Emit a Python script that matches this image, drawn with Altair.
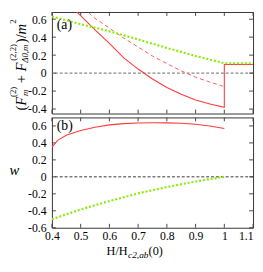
import altair as alt
import pandas as pd

# ---- data ----
# panel (a)
green_a_x = [0.4, 0.5, 0.6, 0.7, 0.8, 0.9, 1.0, 1.1]
green_a_y = [0.63, 0.545, 0.465, 0.375, 0.28, 0.19, 0.11, 0.11]
red_a_x = [0.47, 0.5, 0.55, 0.6, 0.65, 0.7, 0.75, 0.8, 0.85, 0.9, 0.95, 1.0, 1.0, 1.1]
red_a_y = [0.73, 0.64, 0.48, 0.33, 0.17, 0.045, -0.065, -0.16, -0.235, -0.30, -0.345, -0.38, 0.095, 0.095]
reddash_a_x = [0.51, 0.55, 0.6, 0.65, 0.7, 0.75, 0.8, 0.85, 0.9, 0.95, 0.995]
reddash_a_y = [0.72, 0.61, 0.50, 0.39, 0.29, 0.19, 0.105, 0.025, -0.045, -0.10, -0.145]
# panel (b)
red_b_x = [0.4, 0.42, 0.45, 0.5, 0.55, 0.6, 0.65, 0.7, 0.75, 0.8, 0.85, 0.9, 0.95, 1.0]
red_b_y = [0.35, 0.43, 0.49, 0.545, 0.585, 0.612, 0.627, 0.635, 0.637, 0.636, 0.632, 0.62, 0.60, 0.57]
green_b_x = [0.4, 0.5, 0.6, 0.7, 0.8, 0.9, 1.0]
green_b_y = [-0.50, -0.385, -0.285, -0.195, -0.12, -0.055, 0.0]
# ticks
x_ticks = [0.4, 0.5, 0.6, 0.7, 0.8, 0.9, 1.0, 1.1]
y_ticks_a = [-0.4, -0.2, 0, 0.2, 0.4, 0.6]
y_ticks_b = [-0.6, -0.4, -0.2, 0, 0.2, 0.4, 0.6]
zero = [0]

FONT = "Liberation Serif"
RED = "#ff3b3b"
RED2 = "#ff5a5a"
GREEN = "#88ee00"
W, HA, HB = 206, 104, 113


def line_df(xs, ys):
    return pd.DataFrame({"x": xs, "y": ys, "i": list(range(len(xs)))})


dummy = pd.DataFrame({"d": [0]})


def txt(s, x, y, size, italic=False, angle=0, align="left", baseline="alphabetic"):
    return alt.Chart(dummy).mark_text(
        text=s, font=FONT, fontSize=size, fontStyle="italic" if italic else "normal",
        angle=angle, align=align, baseline=baseline, color="black"
    ).encode(x=alt.value(x), y=alt.value(y))


ylab = "datum.value == 0 ? '0' : (datum.value < 0 ? '-' : '') + format(abs(datum.value), '.1f')"
xlab = "datum.value == 1 ? '1' : format(datum.value, '.1f')"

xs = alt.Scale(domain=[0.4, 1.1], nice=False, zero=False)
ya = alt.Scale(domain=[-0.45, 0.68], nice=False, zero=False)
yb = alt.Scale(domain=[-0.6, 0.7], nice=False, zero=False)

XA = alt.X("x:Q", scale=xs, axis=None)
YA = alt.Y("y:Q", scale=ya, axis=alt.Axis(values=y_ticks_a, title=None, labelExpr=ylab,
                                          labelPadding=6, ticks=False, domain=False, grid=False,
                                          labelFont=FONT, labelFontSize=12, labelColor="black"))
XB = alt.X("x:Q", scale=xs, axis=alt.Axis(values=x_ticks, title=None, labelExpr=xlab, labelFlush=False,
                                          labelAlign={"condition": {"test": "datum.value > 1.05", "value": "right"}, "value": "center"},
                                          labelPadding=3, ticks=False, domain=False, grid=False,
                                          labelFont=FONT, labelFontSize=12, labelColor="black"))
YB = alt.Y("y:Q", scale=yb, axis=alt.Axis(values=y_ticks_b, title=None, labelExpr=ylab,
                                          labelPadding=6, ticks=False, domain=False, grid=False,
                                          labelFont=FONT, labelFontSize=12, labelColor="black"))


def tick_layers(X, Y, yt, H):
    xt = pd.DataFrame({"x": x_ticks})
    ytd = pd.DataFrame({"y": yt})
    c = "#444"
    return [
        alt.Chart(xt).mark_rule(color=c, strokeWidth=1).encode(x=X, y=alt.value(0), y2=alt.value(4)),
        alt.Chart(xt).mark_rule(color=c, strokeWidth=1).encode(x=X, y=alt.value(H - 4), y2=alt.value(H)),
        alt.Chart(ytd).mark_rule(color=c, strokeWidth=1).encode(y=Y, x=alt.value(0), x2=alt.value(4)),
        alt.Chart(ytd).mark_rule(color=c, strokeWidth=1).encode(y=Y, x=alt.value(W - 4), x2=alt.value(W)),
    ]


# ---- panel (a) ----
zero_a = alt.Chart(pd.DataFrame({"y": zero})).mark_rule(color="#888", strokeWidth=1.4, strokeDash=[3, 2]).encode(y=YA)
g_a = alt.Chart(line_df(green_a_x, green_a_y)).mark_line(color=GREEN, strokeWidth=2.2, strokeDash=[2, 2], clip=True).encode(x=XA, y=YA, order="i:Q")
r_a = alt.Chart(line_df(red_a_x, red_a_y)).mark_line(color=RED, strokeWidth=1.1, clip=True).encode(x=XA, y=YA, order="i:Q")
rd_a = alt.Chart(line_df(reddash_a_x, reddash_a_y)).mark_line(color=RED2, strokeWidth=1, strokeDash=[4, 3], clip=True).encode(x=XA, y=YA, order="i:Q")

S, SS = 15, 9
MX, SUBX, SUPX = -27, -25, -37
title_a = [
    txt("(", MX, 101, S, angle=270),
    txt("F", MX, 96, S, italic=True, angle=270),
    txt("m", SUBX, 86, SS, italic=True, angle=270),
    txt("(2)", SUPX, 87, SS, angle=270),
    txt("+", MX, 73, S, angle=270),
    txt("F", MX, 61, S, italic=True, angle=270),
    txt("\u03940,m", SUBX, 52, SS, italic=True, angle=270),
    txt("(2,2)", SUPX, 50, SS, angle=270),
    txt(")", MX, 32, S, angle=270),
    txt("/", MX, 27, S, angle=270),
    txt("m", MX, 23, S, italic=True, angle=270),
    txt("2", SUPX, 12, SS, angle=270),
    txt("(a)", 5, 17.5, 14),
]

top = alt.layer(zero_a, *tick_layers(XA, YA, y_ticks_a, HA), rd_a, r_a, g_a, *title_a).properties(width=W, height=HA)

# ---- panel (b) ----
zero_b = alt.Chart(pd.DataFrame({"y": zero})).mark_rule(color="#333", strokeWidth=1, strokeDash=[3, 2]).encode(y=YB)
r_b = alt.Chart(line_df(red_b_x, red_b_y)).mark_line(color=RED, strokeWidth=1.1, clip=True).encode(x=XB, y=YB, order="i:Q")
g_b = alt.Chart(line_df(green_b_x, green_b_y)).mark_line(color=GREEN, strokeWidth=2.2, strokeDash=[2, 2], clip=True).encode(x=XB, y=YB, order="i:Q")

title_b = [
    txt("w", -38.5, 59, 15, italic=True, align="center"),
    txt("(b)", 5, 13, 14),
    txt("H/H", 56, 141, 12.5),
    txt("c2,ab", 78, 144, 9.5, italic=True),
    txt("(0)", 99, 141, 12.5),
]

bottom = alt.layer(zero_b, *tick_layers(XB, YB, y_ticks_b, HB), r_b, g_b, *title_b).properties(width=W, height=HB)

chart = alt.vconcat(top, bottom, spacing=4, bounds="flush").properties(padding=0).configure_view(stroke="#333", strokeWidth=1)

chart.save("out.html", embed_options={"renderer": "svg", "actions": False})
